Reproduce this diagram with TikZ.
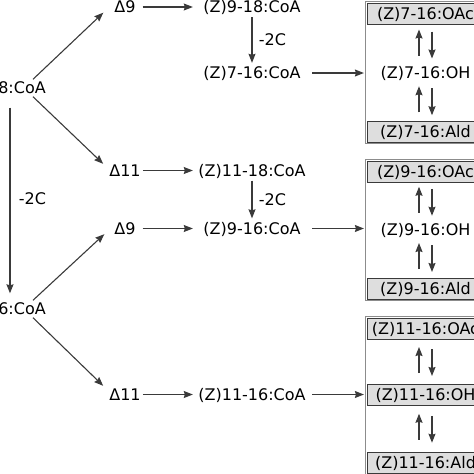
\documentclass[tikz,border=0pt]{standalone}
\usepackage{fontspec}
\setmainfont{DejaVu Sans}
\usetikzlibrary{arrows.meta,fit}
\definecolor{ink}{HTML}{3A3A3A}
\definecolor{boxfill}{HTML}{DEDEDE}
\definecolor{framegray}{HTML}{8C8C8C}

\begin{document}
\begin{tikzpicture}[x=1pt,y=-1pt,font=\fontsize{16}{19}\selectfont,
  lbl/.style={inner sep=2pt,text height=12pt,text depth=1pt},
  delta/.style={lbl,minimum width=35pt},
  coa/.style={lbl,minimum width=112pt},
  pher/.style={lbl,draw=ink,fill=boxfill,minimum width=117pt,minimum height=21pt},
  frame/.style={draw=framegray,line width=.8pt,inner sep=1.5pt},
  arr/.style={-{Stealth[length=9pt,width=7pt,inset=1pt]},draw=ink,line width=1.1pt}]
  \useasboundingbox (0,0) rectangle (474,474);
  \node[lbl,anchor=east] (acyl18) at (48,88) {18:CoA};
  \node[lbl,anchor=east] (acyl16) at (48,309) {16:CoA};
  \node[delta] (d9a) at (125,7) {Δ9};
  \node[delta] (d11a) at (125,170.5) {Δ11};
  \node[delta] (d9b) at (125,228.5) {Δ9};
  \node[delta] (d11b) at (125,394.5) {Δ11};
  \node[coa] (z918) at (252,7) {(Z)9-18:CoA};
  \node[coa] (z716) at (252,73) {(Z)7-16:CoA};
  \node[coa] (z1118) at (252,170.5) {(Z)11-18:CoA};
  \node[coa] (z916) at (252,228.5) {(Z)9-16:CoA};
  \node[coa] (z1116) at (252,394.5) {(Z)11-16:CoA};
  \node[pher] (oacA) at (425.5,14) {(Z)7-16:OAc};
  \node[lbl] (ohA) at (425.5,73) {(Z)7-16:OH};
  \node[pher] (aldA) at (425.5,131.5) {(Z)7-16:Ald};
  \node[pher] (oacB) at (425.5,172) {(Z)9-16:OAc};
  \node[lbl] (ohB) at (425.5,229.5) {(Z)9-16:OH};
  \node[pher] (aldB) at (425.5,288.5) {(Z)9-16:Ald};
  \node[pher] (oacC) at (425.5,329) {(Z)11-16:OAc};
  \node[pher] (ohC) at (425.5,395) {(Z)11-16:OH};
  \node[pher] (aldC) at (425.5,462.5) {(Z)11-16:Ald};
  \node[frame,fit=(oacA)(aldA)] (frameA) {};
  \node[frame,fit=(oacB)(aldB)] (frameB) {};
  \node[frame,fit=(oacC)(aldC)] (frameC) {};
  \draw[arr,shorten <=11pt,shorten >=7pt] ([xshift=-7pt]acyl18.south) -- ([xshift=-7pt]acyl16.north) node[midway,right=5pt]{-2C};
  \draw[arr] ([xshift=16pt]acyl18.north) -- ([xshift=-4pt,yshift=3pt]d9a.south west);
  \draw[arr] ([xshift=16pt]acyl18.south) -- ([xshift=-4pt,yshift=-2pt]d11a.north west);
  \draw[arr] ([xshift=16pt]acyl16.north) -- ([xshift=-3pt,yshift=3pt]d9b.south west);
  \draw[arr] ([xshift=16pt]acyl16.south) -- ([xshift=-4pt]d11b.north west);
  \draw[arr,shorten >=3pt] (d9a) -- (z918);
  \draw[arr,shorten >=3pt] (d11a) -- (z1118);
  \draw[arr,shorten >=3pt] (d9b) -- (z916);
  \draw[arr,shorten >=3pt] (d11b) -- (z1116);
  \draw[arr,shorten <=1.5pt,shorten >=1.5pt] (z918) -- (z716) node[midway,right=3pt]{-2C};
  \draw[arr,shorten <=1.5pt,shorten >=1.5pt] (z1118) -- (z916) node[midway,right=3pt]{-2C};
  \draw[arr,shorten <=4pt,shorten >=1pt] (z716) -- (z716 -| frameA.west);
  \draw[arr,shorten <=4pt,shorten >=1pt] (z916) -- (z916 -| frameB.west);
  \draw[arr,shorten <=4pt,shorten >=1pt] (z1116) -- (z1116 -| frameC.west);
  \foreach \a/\b in {oacA/ohA,ohA/aldA,oacB/ohB,ohB/aldB,oacC/ohC,ohC/aldC}{
    \path (\a.south) -- coordinate (mid) (\b.north);
    \draw[arr] ([xshift=-6.5pt,yshift=-11pt]mid) -- ([xshift=-6.5pt,yshift=15pt]mid);
    \draw[arr] ([xshift=6.5pt,yshift=13pt]mid) -- ([xshift=6.5pt,yshift=-14pt]mid);
  }
\end{tikzpicture}
\end{document}
